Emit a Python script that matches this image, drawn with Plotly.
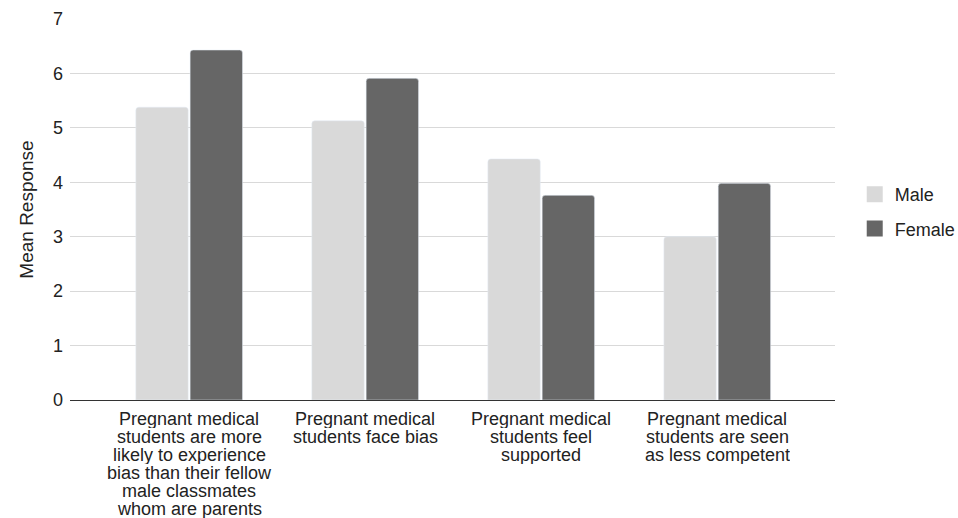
import plotly.graph_objects as go

# Survey statements (wrapped as they appear under the axis)
category_lines = [
    ["Pregnant medical", "students are more", "likely to experience",
     "bias than their fellow", "male classmates", "whom are parents"],
    ["Pregnant medical", "students face bias"],
    ["Pregnant medical", "students feel", "supported"],
    ["Pregnant medical", "students are seen", "as less competent"],
]
categories = [" ".join(lines) for lines in category_lines]

male_mean = [5.38, 5.13, 4.43, 3.0]
female_mean = [6.43, 5.91, 3.76, 3.98]

y_ticks = [0, 1, 2, 3, 4, 5, 6, 7]

MALE_COLOR = "#d9d9d9"
FEMALE_COLOR = "#666666"
TEXT_COLOR = "#222222"
FONT = "Arial, Liberation Sans, Helvetica, sans-serif"

fig = go.Figure()
fig.add_trace(go.Bar(name="Male", x=categories, y=male_mean,
                     marker=dict(color=MALE_COLOR, cornerradius=3),
                     showlegend=False))
fig.add_trace(go.Bar(name="Female", x=categories, y=female_mean,
                     marker=dict(color=FEMALE_COLOR, cornerradius=3),
                     showlegend=False))

# Square legend swatches
for name, color in [("Male", MALE_COLOR), ("Female", FEMALE_COLOR)]:
    fig.add_trace(go.Scatter(name=name, x=[None], y=[None], mode="markers",
                             marker=dict(symbol="square", size=16, color=color),
                             legendgroup=name))

# Wrapped category labels, one annotation per line (tight line spacing)
line_gap = 18.0
for i, lines in enumerate(category_lines):
    for j, text in enumerate(lines):
        fig.add_annotation(x=i, y=0, xref="x", yref="paper", text=text,
                           showarrow=False, xanchor="center", yanchor="middle",
                           height=18, valign="middle",
                           yshift=-18.5 - line_gap * j,
                           font=dict(family=FONT, size=18, color=TEXT_COLOR))

fig.update_layout(
    width=958, height=518,
    margin=dict(l=70, r=123, t=19, b=118, autoexpand=False),
    paper_bgcolor="white", plot_bgcolor="white",
    barmode="group", bargap=0.383, bargroupgap=0.035,
    font=dict(family=FONT, size=18, color=TEXT_COLOR),
    legend=dict(xref="container", x=0.8922, y=0.588, xanchor="left", yanchor="top",
                font=dict(family=FONT, size=18, color=TEXT_COLOR),
                itemsizing="trace", tracegroupgap=8, bgcolor="rgba(0,0,0,0)"),
)
fig.update_xaxes(type="category", range=[-0.677, 3.669], showticklabels=False,
                 showgrid=False, showline=False, ticks="")
fig.update_yaxes(range=[0, 7], tickvals=y_ticks, showgrid=True,
                 gridcolor="#d9d9d9", gridwidth=1,
                 zeroline=True, zerolinecolor="#333333", zerolinewidth=1,
                 showline=False, ticks="", ticklabelstandoff=6,
                 tickfont=dict(family=FONT, size=18, color=TEXT_COLOR),
                 title=dict(text="Mean Response", standoff=14,
                            font=dict(family=FONT, size=19, color=TEXT_COLOR)))

fig.write_html("out.html")
